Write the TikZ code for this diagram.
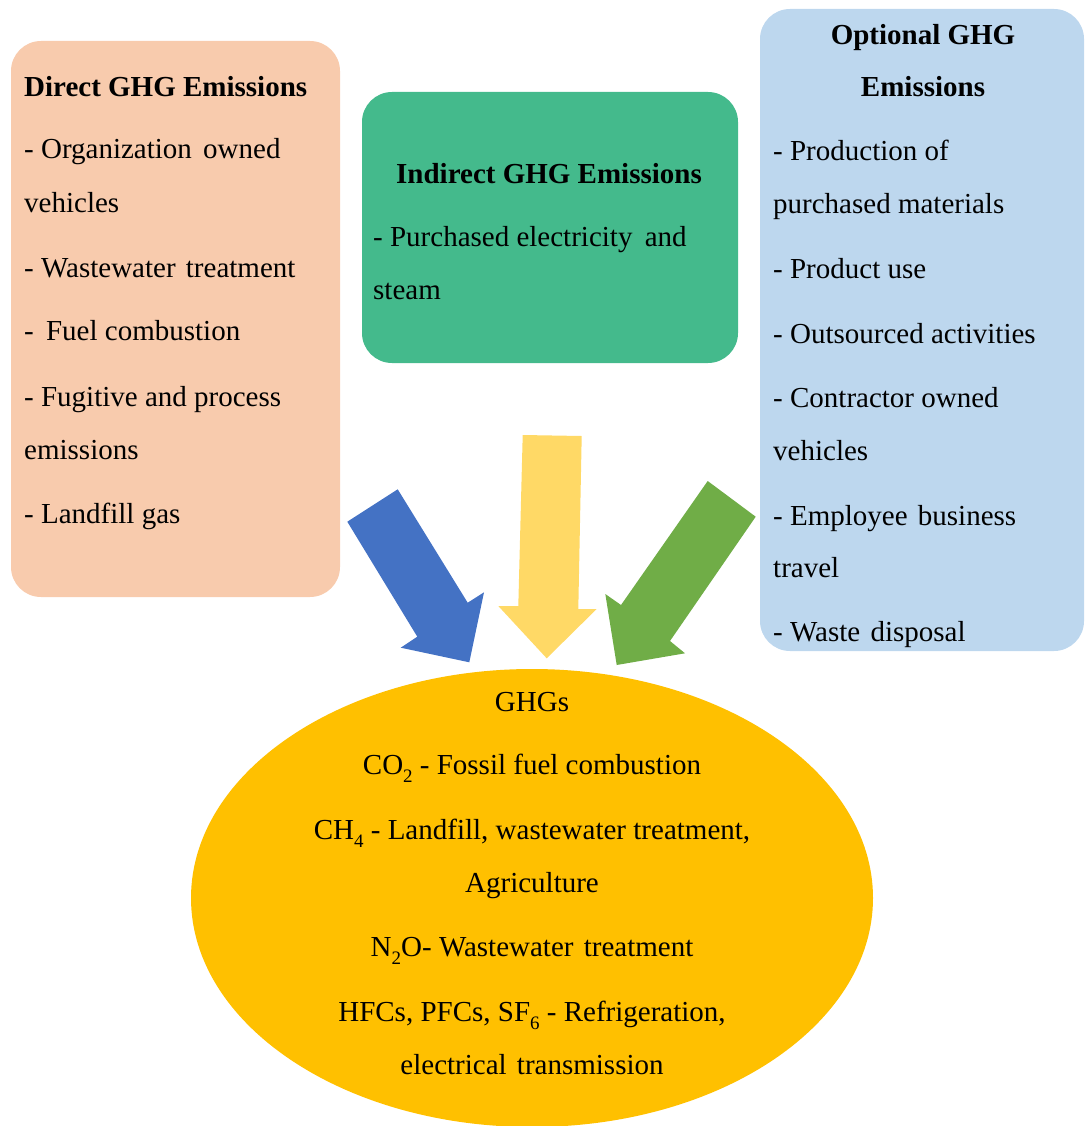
\documentclass[tikz,border=0pt]{standalone}
\usepackage{fontspec}
\setmainfont{Liberation Serif}
\usetikzlibrary{shapes.geometric}

\definecolor{peach}{HTML}{F8CBAD}
\definecolor{teal}{HTML}{44BA8C}
\definecolor{skyblue}{HTML}{BDD7EE}
\definecolor{arrowblue}{HTML}{4472C4}
\definecolor{arrowyellow}{HTML}{FFD966}
\definecolor{arrowgreen}{HTML}{70AD47}
\definecolor{gold}{HTML}{FFC000}

\newcommand{\lowsub}[1]{\raisebox{-0.28em}{\fontsize{19}{19}\selectfont #1}}

\tikzset{
  panel/.style={rectangle, rounded corners=30pt, draw=none, inner sep=0pt},
  txt/.style={inner sep=0pt, anchor=base west, font=\fontsize{29}{35}\selectfont},
  ttl/.style={inner sep=0pt, anchor=base, font=\fontsize{29}{35}\selectfont\bfseries},
  ctr/.style={inner sep=0pt, anchor=base, font=\fontsize{29}{35}\selectfont},
}

\begin{document}
\begin{tikzpicture}[x=1pt, y=-1pt]
\useasboundingbox (0,0) rectangle (1084,1126);

% three source panels
\node[panel, fill=peach, minimum width=329pt, minimum height=556pt] (direct) at (175.5,319) {};
\node[panel, fill=teal, minimum width=376pt, minimum height=271pt] (indirect) at (550,227.5) {};
\node[panel, fill=skyblue, minimum width=324pt, minimum height=642pt] (optional) at (922,330) {};

% greenhouse gas ellipse
\node[ellipse, fill=gold, inner sep=0pt, minimum width=682pt, minimum height=458pt] (ghg) at (532,898) {};

% block arrows pointing to the ellipse
\fill[arrowblue] (347.3,521.7) -- (397.7,489.3) -- (467.7,602.7) -- (484,592.3)
  -- (469.3,662.3) -- (400.7,647.7) -- (417.3,636.7) -- cycle;
\fill[arrowyellow] (522.7,435) -- (581.7,436) -- (578.3,609) -- (596.7,609)
  -- (546.7,658.3) -- (498.3,606) -- (518.3,606) -- cycle;
\fill[arrowgreen] (707.7,481) -- (755.7,516.7) -- (670,641) -- (685,653.3)
  -- (616.7,665) -- (605.3,594) -- (621,605) -- cycle;

% direct emissions
\node[txt, font=\fontsize{29}{35}\selectfont\bfseries] (d0) at (24,97) {Direct GHG Emissions};
\node[txt] (d1) at (24,159) {- Organization\hspace{4pt} owned};
\node[txt] (d2) at (24,212) {vehicles};
\node[txt] (d3) at (24,277) {- Wastewater\hspace{3pt} treatment};
\node[txt] (d4) at (24,340) {-\hspace{5pt} Fuel combustion};
\node[txt] (d5) at (24,406) {- Fugitive and process};
\node[txt] (d6) at (24,459) {emissions};
\node[txt] (d7) at (24,523) {- Landfill gas};

% indirect emissions
\node[ttl] (i0) at (549,183) {Indirect GHG Emissions};
\node[txt] (i1) at (373,246) {- Purchased electricity\hspace{5pt} and};
\node[txt] (i2) at (373,299) {steam};

% optional emissions
\node[ttl] (o0) at (923,45) {Optional GHG};
\node[ttl] (o1) at (923,97) {Emissions};
\node[txt] (o2) at (773,161) {- Production of};
\node[txt] (o3) at (773,213) {purchased materials};
\node[txt] (o4) at (773,278) {- Product use};
\node[txt] (o5) at (773,343) {- Outsourced activities};
\node[txt] (o6) at (773,407) {- Contractor owned};
\node[txt] (o7) at (773,460) {vehicles};
\node[txt] (o8) at (773,525) {- Employee\hspace{3pt} business};
\node[txt] (o9) at (773,577) {travel};
\node[txt] (o10) at (773,641) {- Waste\hspace{3pt} disposal};

% gases and their sources
\node[ctr] (g0) at (532,711) {GHGs};
\node[ctr] (g1) at (532,774) {CO\lowsub{2} - Fossil fuel combustion};
\node[ctr] (g2) at (532,839) {CH\lowsub{4} - Landfill, wastewater treatment,};
\node[ctr] (g3) at (532,892) {Agriculture};
\node[ctr] (g4) at (532,956) {N\lowsub{2}O- Wastewater\hspace{3pt} treatment};
\node[ctr] (g5) at (532,1021) {HFCs, PFCs, SF\lowsub{6} - Refrigeration,};
\node[ctr] (g6) at (532,1074) {electrical\hspace{3pt} transmission};
\end{tikzpicture}
\end{document}
